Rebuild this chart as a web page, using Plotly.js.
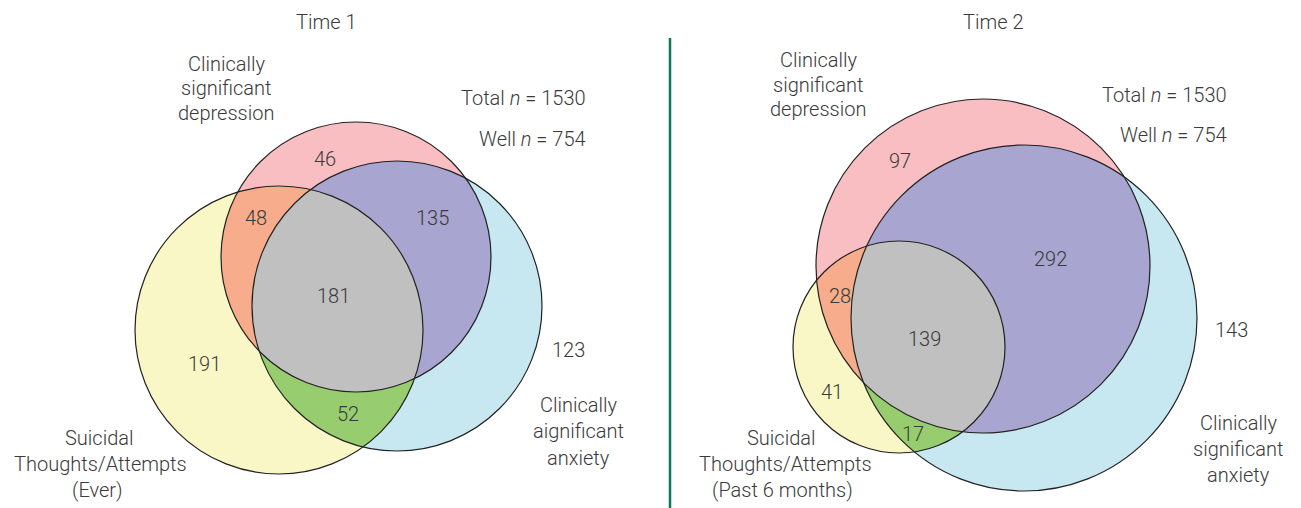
<!DOCTYPE html>
<html><head><meta charset="utf-8">
<script src="https://cdn.plot.ly/plotly-3.0.1.min.js"></script>
<style>html,body{margin:0;padding:0;background:#fff}</style>
</head><body><div id="chart" style="width:1301px;height:508px"></div>
<script>
// ---------- data ----------
const panelTitles = ['Time 1', 'Time 2'];
const regionKeys = ['D', 'DS', 'DA', 'DAS', 'S', 'A', 'AS']; // D=depression, A=anxiety, S=suicidal
const time1Counts = [46, 48, 135, 181, 191, 123, 52];
const time2Counts = [97, 28, 292, 139, 41, 143, 17];
const totalN = [1530, 1530];
const wellN = [754, 754];
const time1SetLabels = {
  D: ['Clinically', 'significant', 'depression'],
  A: ['Clinically', 'aignificant', 'anxiety'],
  S: ['Suicidal', 'Thoughts/Attempts', '(Ever)']
};
const time2SetLabels = {
  D: ['Clinically', 'significant', 'depression'],
  A: ['Clinically', 'significant', 'anxiety'],
  S: ['Suicidal', 'Thoughts/Attempts', '(Past 6 months)']
};

// ---------- geometry (pixel layout) ----------
const geom = [
  {
    title: [326, 22],
    circles: { D: {cx: 356, cy: 257, r: 135}, A: {cx: 397, cy: 306, r: 145}, S: {cx: 279, cy: 330, r: 144} },
    countPos: { D: [325,159], DS: [256,218], DA: [432,218], DAS: [333,296], S: [204,364], A: [568,350], AS: [348,414] },
    setPos: { D: [[226,64],[226,88],[226,113]], A: [[578,405],[578,431],[578,458]], S: [[99,438],[100,464],[97,490]] },
    nPos: { x: 588, total: 98, well: 139 }
  },
  {
    title: [993, 22],
    circles: { D: {cx: 983, cy: 266, r: 167}, A: {cx: 1024, cy: 318, r: 173}, S: {cx: 899, cy: 347, r: 106} },
    countPos: { D: [900,161], DS: [840,296], DA: [1050,259], DAS: [924,339], S: [832,392], A: [1231,330], AS: [913,434] },
    setPos: { D: [[818,60],[818,85],[818,109]], A: [[1238,423],[1238,449],[1238,475]], S: [[781,438],[785,464],[782,490]] },
    nPos: { x: 1229, total: 95, well: 135 }
  }
];

const colors = {
  D: '#F8BEC2', A: '#C7E8F0', S: '#FAF7C6',
  DS: '#F7AC8C', DA: '#A8A5D0', AS: '#97CD6F', DAS: '#C0C0C0'
};
const textColor = '#3a3a3a';
const font = 'Roboto, "Liberation Sans", Arial, sans-serif';
const fsize = 20;

function regionPath(circles) {
  const pts = [];
  const N = 1440;
  circles.forEach((c, i) => {
    for (let k = 0; k < N; k++) {
      const t = 2 * Math.PI * k / N;
      const x = c.cx + c.r * Math.cos(t), y = c.cy + c.r * Math.sin(t);
      if (circles.every((o, j) => j === i || Math.hypot(x - o.cx, y - o.cy) <= o.r + 0.01)) pts.push([x, y]);
    }
  });
  let mx = 0, my = 0;
  pts.forEach(p => { mx += p[0]; my += p[1]; });
  mx /= pts.length; my /= pts.length;
  pts.sort((a, b) => Math.atan2(a[1] - my, a[0] - mx) - Math.atan2(b[1] - my, b[0] - mx));
  return 'M ' + pts.map(p => p[0].toFixed(2) + ',' + p[1].toFixed(2)).join(' L ') + ' Z';
}

const shapes = [];
const annotations = [];
const allCounts = [time1Counts, time2Counts];
const allSetLabels = [time1SetLabels, time2SetLabels];
const tfont = () => ({family: font, size: fsize, color: textColor, weight: 300});

geom.forEach((g, pi) => {
  const c = g.circles;
  ['S', 'A', 'D'].forEach(k => {
    shapes.push({type: 'circle', xref: 'x', yref: 'y', x0: c[k].cx - c[k].r, x1: c[k].cx + c[k].r,
      y0: c[k].cy - c[k].r, y1: c[k].cy + c[k].r, fillcolor: colors[k], line: {width: 0}, layer: 'above'});
  });
  [['DS', [c.D, c.S]], ['DA', [c.D, c.A]], ['AS', [c.A, c.S]], ['DAS', [c.D, c.A, c.S]]].forEach(([k, cs]) => {
    shapes.push({type: 'path', xref: 'x', yref: 'y', path: regionPath(cs), fillcolor: colors[k], line: {width: 0}, layer: 'above'});
  });
  ['S', 'A', 'D'].forEach(k => {
    shapes.push({type: 'circle', xref: 'x', yref: 'y', x0: c[k].cx - c[k].r, x1: c[k].cx + c[k].r,
      y0: c[k].cy - c[k].r, y1: c[k].cy + c[k].r, fillcolor: 'rgba(0,0,0,0)', line: {color: '#222', width: 1.2}, layer: 'above'});
  });
  annotations.push({x: g.title[0], y: g.title[1], xref: 'x', yref: 'y', text: panelTitles[pi], showarrow: false,
    xanchor: 'center', yanchor: 'middle', font: tfont()});
  regionKeys.forEach((k, i) => {
    annotations.push({x: g.countPos[k][0], y: g.countPos[k][1], xref: 'x', yref: 'y', text: String(allCounts[pi][i]),
      showarrow: false, xanchor: 'center', yanchor: 'middle', font: tfont()});
  });
  ['D', 'A', 'S'].forEach(k => {
    allSetLabels[pi][k].forEach((line, li) => {
      annotations.push({x: g.setPos[k][li][0], y: g.setPos[k][li][1], xref: 'x', yref: 'y', text: line,
        showarrow: false, xanchor: 'center', yanchor: 'middle', font: tfont()});
    });
  });
  annotations.push({x: g.nPos.x, y: g.nPos.total, xref: 'x', yref: 'y', text: 'Total <i>n</i> = ' + totalN[pi],
    showarrow: false, xanchor: 'right', yanchor: 'middle', font: tfont()});
  annotations.push({x: g.nPos.x, y: g.nPos.well, xref: 'x', yref: 'y', text: 'Well <i>n</i> = ' + wellN[pi],
    showarrow: false, xanchor: 'right', yanchor: 'middle', font: tfont()});
});

shapes.push({type: 'line', xref: 'x', yref: 'y', x0: 670, x1: 670, y0: 38, y1: 508, line: {color: '#0E7A5B', width: 2.5}});

const layout = {
  width: 1301, height: 508,
  margin: {l: 0, r: 0, t: 0, b: 0},
  paper_bgcolor: '#fff', plot_bgcolor: '#fff',
  xaxis: {range: [0, 1301], visible: false, fixedrange: true},
  yaxis: {range: [508, 0], visible: false, fixedrange: true},
  showlegend: false,
  shapes: shapes,
  annotations: annotations
};

Plotly.newPlot('chart', [{x: [], y: [], type: 'scatter', mode: 'markers', hoverinfo: 'skip'}], layout, {staticPlot: true});
</script>
</body></html>
